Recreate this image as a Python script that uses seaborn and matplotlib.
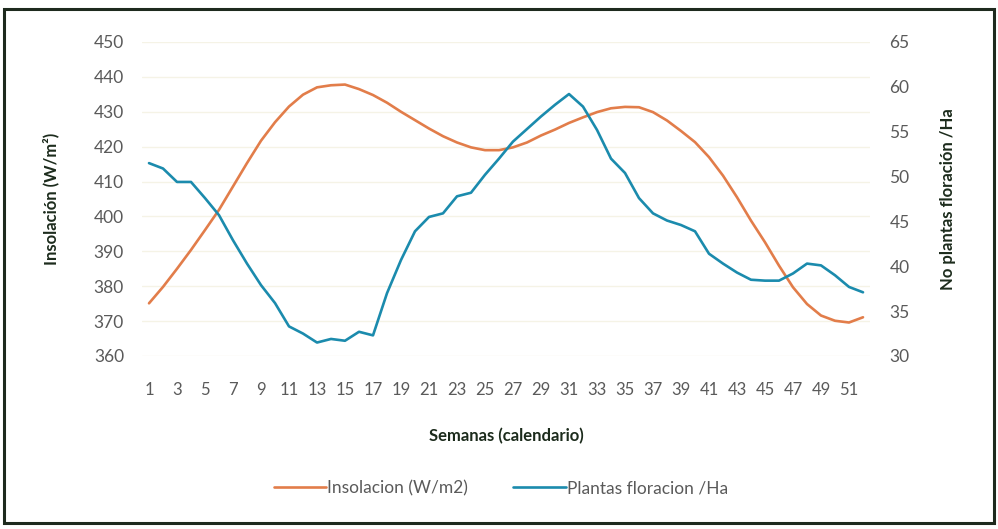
import numpy as np
import pandas as pd
import seaborn as sns
import matplotlib.pyplot as plt
from matplotlib.patches import Rectangle

# Datos (semanas 1-52)
semanas = list(range(1, 53))
insolacion = [375.1, 379.8, 385.0, 390.4, 396.1, 401.9, 408.6, 415.3, 421.7, 427.0,
              431.5, 434.9, 437.0, 437.6, 437.8, 436.5, 434.8, 432.6, 430.0, 427.6,
              425.2, 423.0, 421.2, 419.8, 419.0, 419.0, 419.8, 421.2, 423.2, 424.9,
              426.8, 428.4, 429.9, 431.0, 431.4, 431.3, 429.9, 427.5, 424.5, 421.3,
              417.0, 411.7, 405.5, 398.8, 392.6, 385.9, 379.7, 374.9, 371.6, 370.1,
              369.6, 371.1]
plantas = [51.5, 50.9, 49.4, 49.4, 47.6, 45.7, 42.9, 40.3, 37.9, 35.9,
           33.3, 32.5, 31.5, 31.9, 31.7, 32.7, 32.3, 37.0, 40.7, 43.9,
           45.5, 45.9, 47.8, 48.2, 50.2, 52.0, 53.9, 55.3, 56.7, 58.0,
           59.2, 57.8, 55.2, 52.0, 50.4, 47.6, 45.9, 45.1, 44.6, 43.9,
           41.4, 40.3, 39.3, 38.5, 38.4, 38.4, 39.2, 40.3, 40.1, 39.0,
           37.7, 37.1]

df = pd.DataFrame({"semana": semanas, "insolacion": insolacion, "plantas": plantas})

sns.set_style("white")
plt.rcParams["font.family"] = ["Lato", "DejaVu Sans"]

naranja = "#e27d4a"
azul = "#1b8bad"
gris = "#5a5a5a"
oscuro = "#1c2b1c"

fig = plt.figure(figsize=(9.98, 5.29), dpi=100)
ax = fig.add_axes([142 / 998, 1 - 356 / 529, 728 / 998, 314 / 529])
ax2 = ax.twinx()

sns.lineplot(data=df, x="semana", y="insolacion", ax=ax, color=naranja,
             linewidth=1.9, label="Insolacion (W/m2)", legend=False)
sns.lineplot(data=df, x="semana", y="plantas", ax=ax2, color=azul,
             linewidth=1.9, label="Plantas floracion /Ha", legend=False)

ax.set_xlim(0.5, 52.5)
ax.set_ylim(360, 450)
ax2.set_ylim(30, 65)
ax.set_xticks(range(1, 53, 2))
ax.set_yticks(range(360, 451, 10))
ax2.set_yticks(range(30, 66, 5))

# rejilla muy tenue
for v in range(360, 451, 10):
    ax.axhline(v, color="#f5f3e6", linewidth=1, zorder=0)

for a in (ax, ax2):
    for s in a.spines.values():
        s.set_visible(False)
    a.grid(False)

ax.tick_params(axis="x", length=0, pad=19, labelsize=12, labelcolor=gris)
ax.tick_params(axis="y", length=0, pad=13, labelsize=12.5, labelcolor=gris)
ax2.tick_params(axis="y", length=0, pad=14, labelsize=12.5, labelcolor=gris)

ax.set_xlabel("Semanas (calendario)", fontsize=12, fontweight="bold", color=oscuro)
ax.set_ylabel("Insolación (W/m²)", fontsize=12, fontweight="bold", color=oscuro)
ax2.set_ylabel("No plantas floración /Ha", fontsize=12, fontweight="bold", color=oscuro)
ax.xaxis.set_label_coords(0.5, -0.228)
ax.yaxis.set_label_coords(-0.113, 0.5)
ax2.yaxis.set_label_coords(1.096, 0.5)

h1, l1 = ax.get_legend_handles_labels()
h2, l2 = ax2.get_legend_handles_labels()
leg = fig.legend(h1 + h2, l1 + l2, loc="center", bbox_to_anchor=(0.502, 1 - 488 / 529),
                 ncol=2, frameon=False, fontsize=12.5, handlelength=3.0,
                 handletextpad=0.1, columnspacing=2.6)
for t in leg.get_texts():
    t.set_color(gris)

# marco exterior
fig.patches.append(Rectangle((4 / 998, 6 / 529), 990 / 998, 514 / 529,
                             transform=fig.transFigure, fill=False,
                             edgecolor="#1e2a1e", linewidth=2.2))

fig.savefig("out.png", dpi=100)
